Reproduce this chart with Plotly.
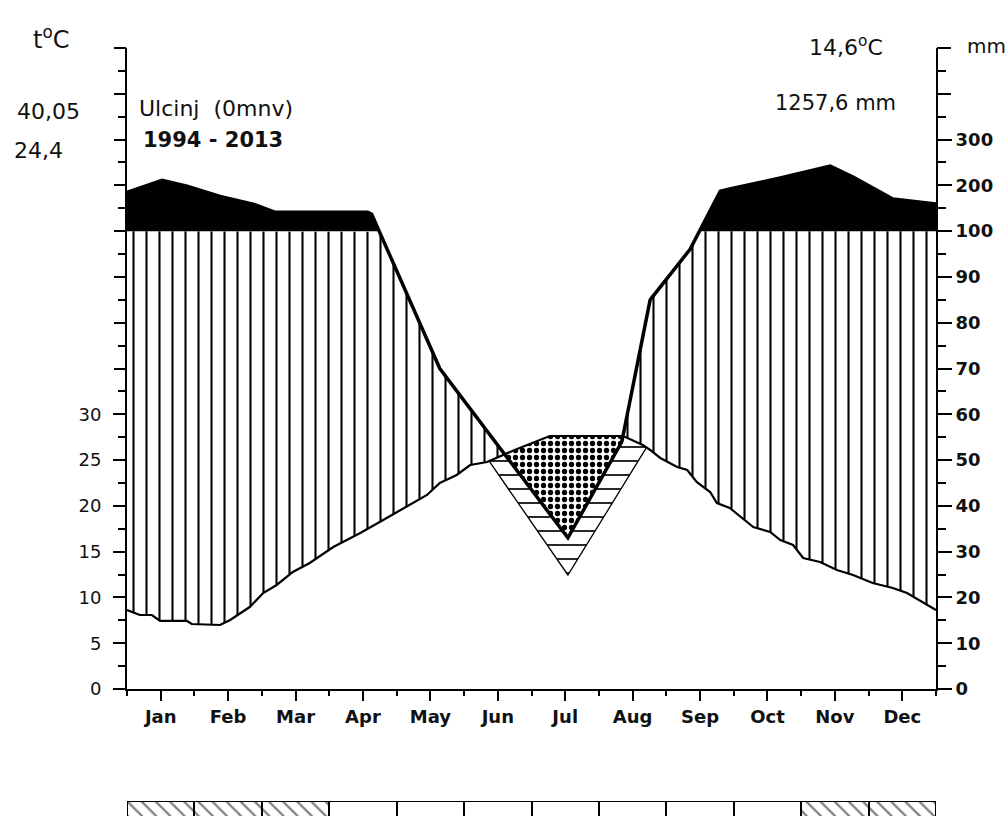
import numpy as np
import plotly.graph_objects as go

# ---------------- data ----------------
months = ["Jan", "Feb", "Mar", "Apr", "May", "Jun", "Jul", "Aug", "Sep", "Oct", "Nov", "Dec"]

# temperature curve: position in months (0 = start of Jan, 12 = end of Dec), degC
temp_pos = [0.00, 0.19, 0.37, 0.49, 0.89, 0.96, 1.38, 1.53, 1.82, 2.02, 2.22, 2.46, 2.71, 3.06,
            3.26, 3.46, 3.80, 4.15, 4.45, 4.64, 4.89, 5.09, 5.34, 5.75, 6.27, 7.36, 7.65, 7.76,
            7.91, 8.16, 8.31, 8.45, 8.65, 8.75, 8.94, 9.29, 9.54, 9.69, 9.88, 10.03, 10.28,
            10.53, 10.77, 11.06, 11.36, 11.57, 11.81, 12.00]
temp_val = [8.63, 8.08, 8.08, 7.43, 7.43, 7.10, 6.99, 7.54, 8.95, 10.48, 11.36, 12.78, 13.76, 15.51,
            16.27, 17.04, 18.46, 19.98, 21.19, 22.50, 23.37, 24.46, 24.79, 26.10, 27.63, 27.63, 26.65, 26.10,
            25.23, 24.24, 23.92, 22.61, 21.51, 20.31, 19.77, 17.69, 17.15, 16.27, 15.73, 14.31, 13.87,
            13.00, 12.45, 11.58, 11.03, 10.48, 9.50, 8.63]

# precipitation curve: position in months, mm
prec_pos = [0.00, 0.52, 0.89, 1.38, 1.87, 2.20, 3.57, 3.63, 4.64, 6.54, 7.34, 7.76, 8.35,
            8.80, 8.94, 9.69, 10.43, 10.77, 11.36, 11.76, 12.00]
prec_mm = [185, 211, 198, 176, 159, 141, 141, 137, 70, 33, 54, 85, 96,
           187, 192, 216, 242, 218, 170, 163, 159]

# dry-period line (thin triangle), degC scale
dry_pos = [5.38, 6.54, 7.70]
dry_val = [24.8, 12.45, 26.3]

# months with frost risk (hatched boxes under the chart)
frost = [1, 1, 1, 0, 0, 0, 0, 0, 0, 0, 1, 1]

# axis labels
left_tick_vals = [0, 5, 10, 15, 20, 25, 30]
right_tick_vals = [0, 5, 10, 15, 20, 25, 30, 35, 40, 45, 50, 55, 60]
right_tick_text = ["0", "10", "20", "30", "40", "50", "60", "70", "80", "90", "100", "200", "300"]

# ---------------- helpers ----------------
def mm_to_units(mm):
    mm = np.asarray(mm, dtype=float)
    return np.where(mm <= 100, mm / 2.0, 50 + (mm - 100) / 20.0)

prec_u = mm_to_units(prec_mm)

xs = np.linspace(0, 12, 2401)
tu = np.interp(xs, temp_pos, temp_val)
pu = np.interp(xs, prec_pos, prec_u)

def runs(mask):
    """contiguous index runs where mask is True"""
    out, start = [], None
    for i, v in enumerate(mask):
        if v and start is None:
            start = i
        if not v and start is not None:
            out.append((start, i))
            start = None
    if start is not None:
        out.append((start, len(mask)))
    return out

FONT = "DejaVu Sans"
fig = go.Figure()

def band(x, lo, hi, **fillkw):
    fig.add_trace(go.Scatter(x=x, y=lo, mode="lines", line=dict(width=0), hoverinfo="skip", showlegend=False))
    fig.add_trace(go.Scatter(x=x, y=hi, mode="lines", line=dict(width=0), fill="tonexty",
                             hoverinfo="skip", showlegend=False, **fillkw))

# wet period: vertical hatching between temperature and precipitation (capped at 100 mm)
for a, b in runs(pu > tu):
    a0, b0 = max(a - 1, 0), min(b + 1, len(xs))
    band(xs[a0:b0], tu[a0:b0], np.maximum(np.minimum(pu, 50), tu)[a0:b0],
         fillcolor="white",
         fillpattern=dict(shape="|", fgcolor="black", bgcolor="white", size=13,
                          solidity=0.16, fillmode="replace"))

# very wet: solid black above 100 mm
for a, b in runs(pu > 50):
    a0, b0 = max(a - 1, 0), min(b + 1, len(xs))
    band(xs[a0:b0], np.full(b0 - a0, 50.0), np.maximum(pu, 50)[a0:b0], fillcolor="black")

# relative drought: horizontal hatching between temperature and dry line
m = (xs >= dry_pos[0]) & (xs <= dry_pos[-1])
xs_t = xs[m]
band(xs_t, tu[m], np.interp(xs_t, dry_pos, dry_val), fillcolor="white",
     fillpattern=dict(shape="-", fgcolor="black", bgcolor="white", size=14,
                      solidity=0.12, fillmode="replace"))

# drought: stippling between temperature and precipitation
for a, b in runs(pu < tu):
    a0, b0 = max(a - 1, 0), min(b + 1, len(xs))
    band(xs[a0:b0], tu[a0:b0], np.minimum(pu, tu)[a0:b0], fillcolor="white",
         fillpattern=dict(shape=".", fgcolor="black", bgcolor="white", size=7,
                          solidity=0.45, fillmode="replace"))

# lines
fig.add_trace(go.Scatter(x=dry_pos, y=dry_val, mode="lines", line=dict(color="black", width=1.3),
                         hoverinfo="skip", showlegend=False))
fig.add_trace(go.Scatter(x=temp_pos, y=temp_val, mode="lines", line=dict(color="black", width=2.2),
                         hoverinfo="skip", showlegend=False))
fig.add_trace(go.Scatter(x=prec_pos, y=prec_u, mode="lines", line=dict(color="black", width=3.5),
                         hoverinfo="skip", showlegend=False))

# dummy traces so the extra tick axes are drawn
for ax in ["y3", "y4", "y5"]:
    fig.add_trace(go.Scatter(x=[0], y=[0], yaxis=ax, mode="markers", marker=dict(opacity=0),
                             hoverinfo="skip", showlegend=False))

# frost boxes
fig.add_trace(go.Bar(x=[i + 0.5 for i in range(12)], y=[1] * 12, width=1, xaxis="x2", yaxis="y2",
                     marker=dict(color="white", line=dict(color="black", width=2),
                                 pattern=dict(shape=["\\" if f else "" for f in frost],
                                              fgcolor="black", bgcolor="white", size=10, solidity=0.22)),
                     hoverinfo="skip", showlegend=False))

L, R, T_, B = 127, 72, 48, 0
W, H = 1008, 816
ph = H - T_ - B
def P(px, py):
    return (px - L) / (W - L - R), (H - B - py) / ph

main_bottom = (H - 689) / ph
box_top = (H - 801) / ph

minor_vals = [v + 2.5 for v in range(0, 70, 5)]
common_y = dict(range=[0, 70], showgrid=False, zeroline=False, ticks="outside", tickwidth=2,
                tickcolor="black", tickmode="array", automargin=False)

fig.update_layout(
    width=W, height=H, margin=dict(l=L, r=R, t=T_, b=B, pad=0, autoexpand=False),
    plot_bgcolor="white", paper_bgcolor="white", showlegend=False,
    font=dict(family=FONT, color="#111"),
    bargap=0,
    xaxis=dict(domain=[0, 1], range=[0, 12], anchor="y", showline=True, linewidth=2, linecolor="black",
               showgrid=False, zeroline=False, ticks="outside", ticklen=10, tickwidth=2, tickcolor="black",
               tickmode="array", tickvals=[i + 0.5 for i in range(12)], ticktext=months, automargin=False,
               tickfont=dict(family=FONT, size=18, color="#111", weight="bold"),
               minor=dict(tickmode="array", tickvals=list(range(13)), ticks="outside", ticklen=5,
                          tickwidth=2, tickcolor="black", showgrid=False)),
    yaxis=dict(domain=[main_bottom, 1], anchor="x", showline=True, linewidth=2, linecolor="black",
               ticklen=12, tickvals=left_tick_vals, ticktext=[str(v) for v in left_tick_vals],
               tickfont=dict(family=FONT, size=18, color="#111"), ticklabelstandoff=8,
               minor=dict(tickmode="array", tickvals=minor_vals, ticks="outside",
                          ticklen=7, tickwidth=2, tickcolor="black", showgrid=False),
               **common_y),
    yaxis4=dict(overlaying="y", side="left", anchor="x", showline=False, ticklen=12,
                tickvals=list(range(35, 71, 5)), showticklabels=False, **common_y),
    yaxis3=dict(overlaying="y", side="right", anchor="x", showline=True, linewidth=2, linecolor="black",
                ticklen=14, tickvals=right_tick_vals, ticktext=right_tick_text,
                tickfont=dict(family=FONT, size=18, color="#111", weight="bold"),
                minor=dict(tickmode="array", tickvals=minor_vals, ticks="outside",
                           ticklen=8, tickwidth=2, tickcolor="black", showgrid=False),
                **common_y),
    yaxis5=dict(overlaying="y", side="right", anchor="x", showline=False, ticklen=14,
                tickvals=[65, 70], showticklabels=False, **common_y),
    xaxis2=dict(domain=[0, 1], range=[0, 12], anchor="y2", visible=False),
    yaxis2=dict(domain=[0, box_top], range=[0.06, 1], anchor="x2", visible=False),
)

def ann(text, px, py, size, xanchor="center", bold=False):
    x, y = P(px, py)
    fig.add_annotation(text=text, x=x, y=y, xref="paper", yref="paper", xanchor=xanchor, yanchor="middle",
                       showarrow=False,
                       font=dict(family=FONT, size=size, color="#111", weight="bold" if bold else "normal"))

ann("t<sup>o</sup>C", 51, 38, 24)
ann("40,05", 48, 111, 22)
ann("24,4", 38, 150, 22)
ann("Ulcinj\u00a0 (0mnv)", 137, 108, 22, xanchor="left")
ann("1994 - 2013", 141, 140, 21, xanchor="left", bold=True)
ann("14,6<sup>o</sup>C", 846, 46, 22)
ann("1257,6 mm", 835, 103, 21)
ann("mm", 986, 46, 20)

fig.write_html("out.html")
